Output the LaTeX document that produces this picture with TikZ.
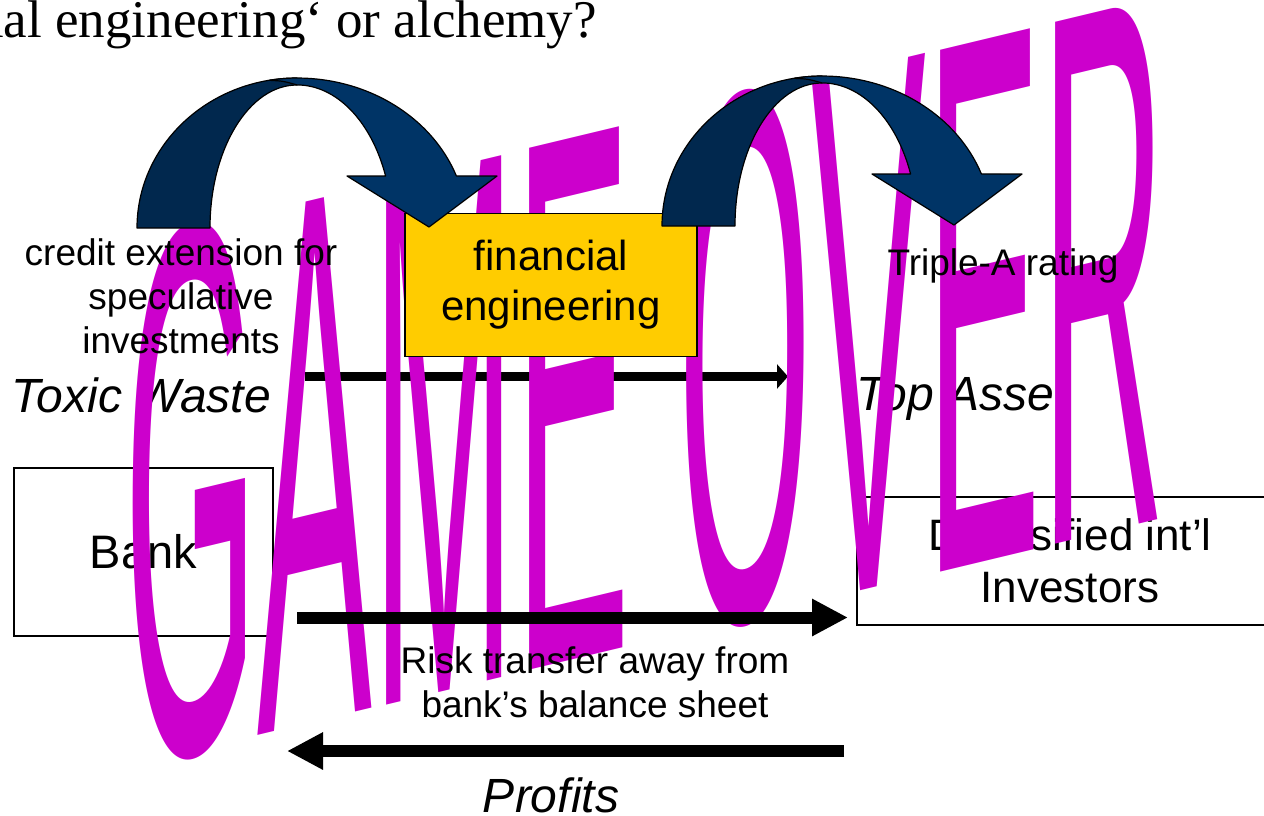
\documentclass[tikz,border=0pt]{standalone}
\usepackage{fontspec}
\setmainfont{Liberation Sans}
\newfontfamily\titlefont{Liberation Serif}
\newfontfamily\gofont{Liberation Sans}
\usetikzlibrary{arrows.meta}
\definecolor{gomag}{RGB}{204,0,204}
\definecolor{arrdark}{RGB}{1,40,78}
\definecolor{arrlight}{RGB}{0,52,102}
\definecolor{boxyellow}{RGB}{255,204,0}
\tikzset{
  lbl/.style={inner sep=0, outer sep=0, align=center, font=\fontsize{37}{44}\selectfont},
  bigit/.style={inner sep=0, outer sep=0, font=\fontsize{48}{54}\selectfont\itshape},
  plainbox/.style={draw=black, line width=1.5pt, fill=white, inner sep=0, align=center, font=\fontsize{44}{52}\selectfont},
  fatarrow/.style={line width=12pt, -{Triangle[length=36pt,width=35pt]}},
  thinarrow/.style={line width=9pt, -{Triangle[length=11pt,width=24pt]}},
  bandlight/.style={fill=arrlight, draw=black, line width=1.2pt, line join=round},
  banddark/.style={fill=arrdark, draw=black, line width=1.2pt, line join=round},
}
\newcommand\drawCurvedArrow{%
  \path[banddark] (662,226) arc[start angle=-180, end angle=-90, x radius=160, y radius=150]
     -- (822,83) arc[start angle=-90, end angle=-180, x radius=87, y radius=143] -- cycle;
  \path[bandlight] (794.2,78.3) arc[start angle=-100, end angle=-90, x radius=160, y radius=150]
     arc[start angle=-90, end angle=-20.3, x radius=170, y radius=150]
     -- (1022,174) -- (954,225) -- (872,174) -- (910.6,174)
     arc[start angle=-21.3, end angle=-90, x radius=95, y radius=143]
     .. controls (808,79) .. (794.2,78.3) -- cycle;
}
\begin{document}
\begin{tikzpicture}[x=1pt, y=-1pt]
\useasboundingbox (0,0) rectangle (1264,815);
\clip (0,0) rectangle (1264,815);

% title
\node[inner sep=0, anchor=base east, font=\titlefont\fontsize{53}{60}\selectfont] (title) at (597,37) {‚Financial engineering‘ or alchemy?};

% lower layer
\node[plainbox, minimum width=259pt, minimum height=168pt, font=\fontsize{47}{52}\selectfont] (bank) at (143.5,552) {Bank};
\node[plainbox, minimum width=426pt, minimum height=128pt] (inv) at (1070,561) {Diversified int’l\\Investors};
\node[bigit, anchor=base west] (toxic) at (12,412) {Toxic Waste};
\node[bigit, anchor=base west] (top) at (856,410) {Top Asset};
\coordinate (tw) at (305,376.5);
\coordinate (ta) at (788,376.5);
\draw[thinarrow] (tw) -- (ta);

% GAME OVER word art
\begin{scope}[shift={(124,768)}, cm={1,0.24,0,4.41,(0,0)}]
\node[transform shape, inner sep=0, outer sep=0, anchor=base west, text=gomag,
      font=\gofont\fontsize{172}{172}\selectfont] (gameover) at (0,0) {GAME OVER};
\end{scope}

% upper layer
\node[draw=black, line width=1.8pt, fill=boxyellow, minimum width=292pt, minimum height=143pt,
      inner sep=0, align=center, font=\fontsize{42}{50}\selectfont] (fe) at (551,285) {financial\\engineering};
\begin{scope}[shift={(-525,2)}]
\drawCurvedArrow
\end{scope}
\drawCurvedArrow

\node[lbl] (credit) at (181,296.5) {credit extension for\\speculative\\investments};
\node[lbl, anchor=base] (aaa) at (1003,275) {Triple-A rating};

\coordinate (r1) at (297,617.5);
\coordinate (r2) at (848,617.5);
\draw[fatarrow] (r1) -- (r2);
\node[lbl] (risk) at (595,682) {Risk transfer away from\\bank’s balance sheet};

\coordinate (p1) at (844,751);
\coordinate (p2) at (287,751);
\draw[fatarrow] (p1) -- (p2);
\node[bigit, anchor=base] (profits) at (551,812) {Profits};
\end{tikzpicture}
\end{document}
